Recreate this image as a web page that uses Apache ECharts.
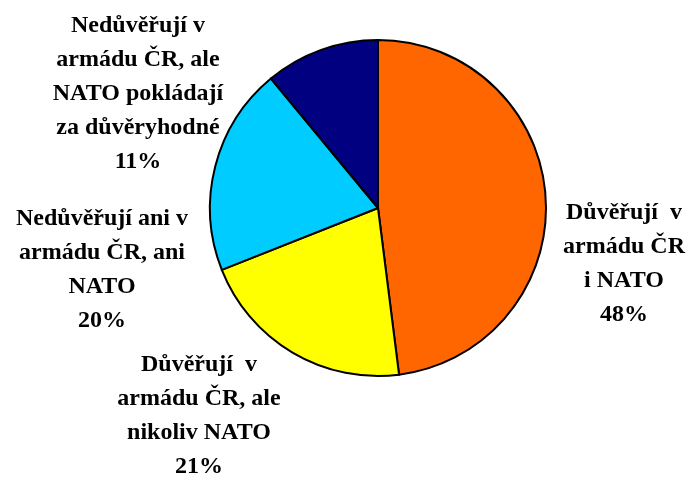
<!DOCTYPE html>
<html>
<head>
<meta charset="utf-8">
<script src="https://cdn.jsdelivr.net/npm/echarts@6/dist/echarts.min.js"></script>
<style>
  html, body { margin: 0; padding: 0; background: #fff; }
  #main { width: 688px; height: 477px; }
</style>
</head>
<body>
<div id="main"></div>
<script>
  // skupiny a podíly (%)
  var names = [
    "Důvěřují  v\narmádu ČR\ni NATO",
    "Důvěřují  v\narmádu ČR, ale\nnikoliv NATO",
    "Nedůvěřují ani v\narmádu ČR, ani\nNATO",
    "Nedůvěřují v\narmádu ČR, ale\nNATO pokládají\nza důvěryhodné"
  ];
  var values = [48, 21, 20, 11];
  var colors = ["#FF6600", "#FFFF00", "#00CCFF", "#000080"];

  // kde stojí popisky (střed bloku textu)
  var labelPos = [[624, 264], [199, 416], [102, 270], [138, 94]];

  var myChart = echarts.init(document.getElementById("main"));

  myChart.setOption({
    animation: false,
    series: [
      {
        type: "pie",
        center: [378, 208],
        radius: [0, 168],
        startAngle: 90,
        clockwise: true,
        data: names.map(function (n, i) {
          return { name: n, value: values[i], itemStyle: { color: colors[i] } };
        }),
        itemStyle: { borderColor: "#000", borderWidth: 2 },
        label: {
          show: true,
          position: "outside",
          formatter: function (p) { return p.name + "\n" + p.value + "%"; },
          fontFamily: "Liberation Serif",
          fontWeight: "bold",
          fontSize: 24,
          lineHeight: 34,
          color: "#000",
          align: "center",
          overflow: "none"
        },
        labelLine: { show: false },
        labelLayout: function (p) {
          var pos = labelPos[p.dataIndex];
          return { x: pos[0], y: pos[1], align: "center", verticalAlign: "middle" };
        },
        emphasis: { disabled: true }
      }
    ]
  });
</script>
</body>
</html>
